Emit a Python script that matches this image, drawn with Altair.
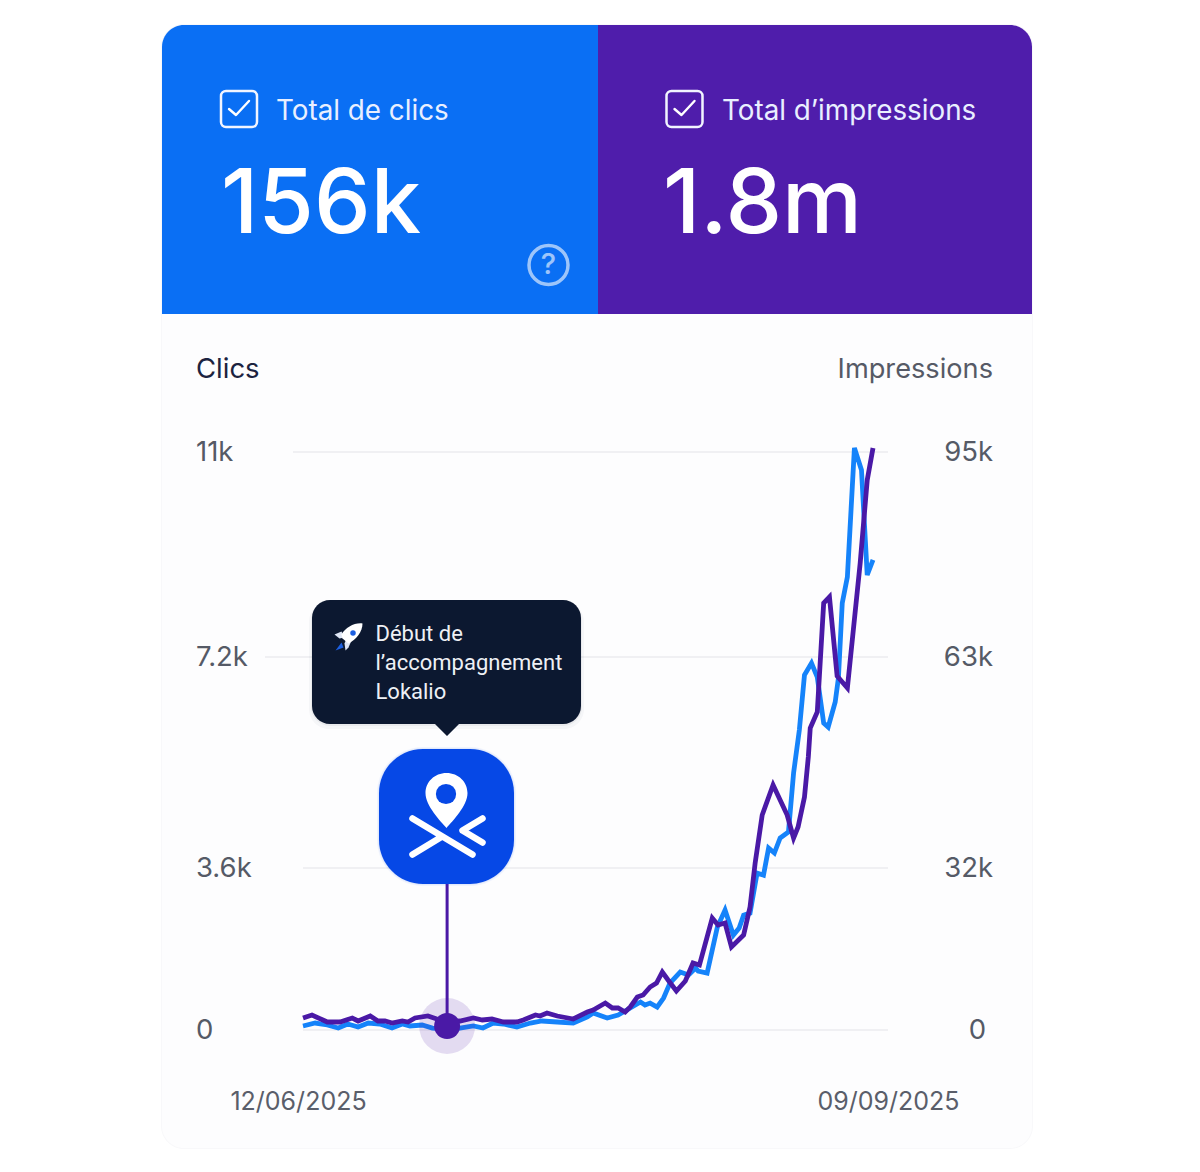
import altair as alt
import pandas as pd

# ---------- data ----------
clic_days = [0,1.9,3.8,5.5,7,8.6,10.2,12,13.9,15.5,16.7,18.6,20.2,22.5,24.5,26.6,28.1,29.7,31.3,33.4,35.5,37.3,39.7,42.2,44.4,45.3,47.5,49.2,51.1,52.7,53.4,54.2,55.3,56.3,57.3,58.9,60.2,61.3,61.7,63.1,64.7,65.9,67.2,68.1,68.8,69.8,70.9,71.9,72.7,73.6,74.5,75.8,76.6,77.5,78.3,79.4,80.3,81.3,82,83.1,83.6,84.2,85,86.1,87.2,88.1,89]
clics = [89,155,111,44,133,67,155,133,44,133,89,111,44,22,44,89,44,155,133,67,155,200,178,155,289,377,266,333,488,622,555,599,511,710,1043,1288,1221,1376,1310,1265,2287,2664,2109,2264,2553,2597,3485,3441,3941,3856,4112,4214,5221,5954,6893,7097,6858,6074,6005,6432,6841,8201,8683,11075,10667,8720,9000]
imp_days = [0,1.4,3.8,5.8,7.7,8.6,10.5,11.7,12.8,13.9,15.5,16.4,17.5,19.5,20.9,22.5,24.5,26.6,28,29.5,31.3,33.4,34.4,36.3,37,38.1,39.7,42.2,44.4,45.3,47.2,48.3,49.2,50.3,51.1,52.2,53.1,54.2,55.2,56.1,57,58.3,59.7,60.9,61.9,63.9,64.8,65.9,66.9,68.8,69.8,70.6,71.7,73.4,75.6,76.6,77.3,78.3,78.9,79.2,80.3,81.3,82.2,83.4,85,87,88.1,89]
impressions = [2370,2963,1580,1580,2370,1778,2765,1778,1778,1383,1778,1580,2370,2765,2173,1580,1778,2370,1975,2173,1580,1580,1975,2963,2765,3358,2765,2173,3555,3950,5333,4345,4345,3555,4543,6518,6913,8493,9283,11455,9875,7703,9678,13233,12838,22120,20738,21133,16393,18763,24293,32735,39786,44193,39786,36407,38023,42430,48306,52566,54916,71429,72366,60205,58442,77673,90630,95625]

clic_ticks = [0, 3600, 7200, 11000]
clic_labels = ["0", "3.6k", "7.2k", "11k"]
imp_ticks = [0, 32000, 63000, 95000]
imp_labels = ["0", "32k", "63k", "95k"]
grid_starts = [303, 303, 265, 293]
start_day = 22.5
start_impressions = 790
date_labels = ["12/06/2025", "09/09/2025"]

BLUE, PURPLE, LINE_BLUE, LINE_PURPLE = "#0A6FF4", "#4F1DAB", "#1583FA", "#4A19A6"
DARK, LOGO = "#0C1830", "#0648E6"
FONT = "Inter"

def P(v):  # page pixel -> chart pixel (8px page margin)
    return alt.value(v - 8)

# ---------- scales ----------
x_scale = alt.Scale(domain=[0, 89], range=[295, 865])
y_range = [1022, 860, 649, 444]
y_clic = alt.Scale(domain=clic_ticks, range=y_range)
y_imp = alt.Scale(domain=imp_ticks, range=y_range)
X = alt.X("day:Q", scale=x_scale, axis=None)

def rect(x0, x1, y0, y1, color, **kw):
    return alt.Chart().mark_rect(color=color, **kw).encode(x=P(x0), x2=P(x1), y=P(y0), y2=P(y1))

def text(s, x, y, size, color=None, weight=400, align="left", font=FONT, **kw):
    return alt.Chart().mark_text(text=s, font=font, fontSize=size, fontWeight=weight, align=align,
                                 baseline="middle", color=color or "#ffffff", **kw).encode(x=P(x), y=P(y))

def icon(path, x, y, fill=None, stroke=None, sw=0, **kw):
    args = dict(shape=path, size=4, filled=fill is not None, opacity=1, **kw)
    if fill is not None:
        args["fill"] = fill
    if stroke is not None:
        args.update(stroke=stroke, strokeWidth=sw, strokeCap="round", strokeJoin="round")
    else:
        args["strokeWidth"] = 0
    return alt.Chart().mark_point(**args).encode(x=P(x), y=P(y))

layers = []

# ---------- card ----------
layers += [
    rect(161, 1033, 24, 1149, "#f8f8fa", cornerRadius=23),
    rect(162, 1032, 26, 1148, "#fdfdfe", cornerRadius=22),
    rect(162, 598, 25, 314, BLUE, cornerRadiusTopLeft=22),
    rect(598, 1032, 25, 314, PURPLE, cornerRadiusTopRight=22),
]

# ---------- header tiles ----------
check = "M-10,0 L-3,6 L10,-8"
for bx, label, big, lx, bigx in [(239, "Total de clics", "156k", 277, 221), (684.5, "Total d\u2019impressions", "1.8m", 723, 663)]:
    layers += [
        rect(bx - 18, bx + 18, 91, 127, "#00000000", cornerRadius=5, stroke="#f2f5ff", strokeWidth=2.5),
        icon(check, bx, 109, stroke="#ffffff", sw=2.4),
        text(label, lx - 1, 112, 27.8, color="#e9efff"),
        text(big, bigx, 205.5, 90, weight=500),
    ]
layers += [
    alt.Chart().mark_point(shape="circle", size=1521, filled=False, stroke="#ffffff", strokeWidth=3.5, opacity=0.6)
        .encode(x=P(548.5), y=P(265)),
    text("?", 548.5, 265, 29, weight=500, opacity=0.6, align="center"),
]

# ---------- chart titles ----------
layers += [
    text("Clics", 196, 370, 27.5, color="#1c2340"),
    text("Impressions", 993, 370, 27.2, color="#565a66", align="right"),
]

# ---------- grid ----------
for t, g0 in zip(clic_ticks, grid_starts):
    layers.append(alt.Chart(pd.DataFrame({"tick": [t]})).mark_rule(color="#ebebef", strokeWidth=1.6)
                  .encode(x=P(g0), x2=P(888), y=alt.Y("tick:Q", scale=y_clic, axis=None)))

# ---------- tick labels ----------
for t, lab in zip(clic_ticks, clic_labels):
    layers.append(alt.Chart(pd.DataFrame({"tick": [t], "label": [lab]}))
                  .mark_text(font=FONT, fontSize=27.5, color="#555a66", align="left", baseline="middle", dy=0.5)
                  .encode(x=P(196), y=alt.Y("tick:Q", scale=y_clic, axis=None), text="label:N"))
for t, lab in zip(imp_ticks, imp_labels):
    layers.append(alt.Chart(pd.DataFrame({"tick": [t], "label": [lab]}))
                  .mark_text(font=FONT, fontSize=27.5, color="#555a66", align="right", baseline="middle", dy=0.5)
                  .encode(x=P(993 if t else 986), y=alt.Y("tick:Q", scale=y_imp, axis=None), text="label:N"))
layers += [
    text(date_labels[0], 298.5, 1101.5, 25, color="#5a5e6a", align="center"),
    text(date_labels[1], 888.5, 1101.5, 25, color="#5a5e6a", align="center"),
]

# ---------- series ----------
layers += [
    alt.Chart(pd.DataFrame({"day": clic_days, "v": clics})).mark_line(color=LINE_BLUE, strokeWidth=4.8, strokeJoin="miter")
        .encode(x=X, y=alt.Y("v:Q", scale=y_clic, axis=None)),
    alt.Chart(pd.DataFrame({"day": imp_days, "v": impressions})).mark_line(color=LINE_PURPLE, strokeWidth=4.8, strokeJoin="miter")
        .encode(x=X, y=alt.Y("v:Q", scale=y_imp, axis=None)),
]

# ---------- start marker ----------
start_df = pd.DataFrame({"day": [start_day], "v": [start_impressions]})
layers += [
    alt.Chart(start_df).mark_rule(color=LINE_PURPLE, strokeWidth=3)
        .encode(x=X, y=alt.Y("v:Q", scale=y_imp, axis=None), y2=P(880)),
    alt.Chart(start_df).mark_point(shape="circle", filled=True, color="#4F1DAB", opacity=0.15, size=3136, strokeWidth=0)
        .encode(x=X, y=alt.Y("v:Q", scale=y_imp, axis=None)),
    alt.Chart(start_df).mark_point(shape="circle", filled=True, color="#4A19A6", opacity=1, size=676, strokeWidth=0)
        .encode(x=X, y=alt.Y("v:Q", scale=y_imp, axis=None)),
]

# ---------- logo ----------
pin = ("M0,-22 C-12,-22 -21,-13 -21,-2 C-21,11 -6,26 0,33 C6,26 21,11 21,-2 C21,-13 12,-22 0,-22 Z")
layers += [
    rect(377, 516, 747, 886, "#0648E6", cornerRadius=46, opacity=0.05),
    rect(378, 515, 748, 885, "#0648E6", cornerRadius=45, opacity=0.06),
    rect(379, 514, 749, 884, LOGO, cornerRadius=44),
    icon(pin, 446.5, 795, fill="#ffffff"),
    alt.Chart().mark_point(shape="circle", size=410, filled=True, color=LOGO, opacity=1, strokeWidth=0).encode(x=P(446), y=P(794)),
    icon("M-34,2 L26,38 M-34,38 L-6,21 M36,2 L16,14 L36,26", 446.5, 816.5, stroke="#ffffff", sw=6.5),
]

# ---------- tooltip ----------
layers += [
    rect(309, 584, 602, 729, "#0C1830", cornerRadius=20, opacity=0.03),
    rect(311, 582, 602, 726, "#0C1830", cornerRadius=19, opacity=0.05),
    rect(312, 581, 600, 724, DARK, cornerRadius=18),
    icon("M-12,-1 L0,-1 L-12,-1 L0,11 L12,-1 Z", 447, 725, fill=DARK),
    text("D\u00e9but de", 375.5, 634, 22, color="#eef0f5", font="Roboto"),
    text("l\u2019accompagnement", 375.5, 663, 22, color="#eef0f5", font="Roboto"),
    text("Lokalio", 375.5, 692, 22, color="#eef0f5", font="Roboto"),
    icon("M-7,-6 L-14,-3 L-9,1 L-4,0 Z", 348.5, 637.5, fill="#dfe6f5"),
    icon("M3,3 L0,10 L-3,13 L-4,6 L-2,1 Z", 348.5, 637.5, fill="#dfe6f5"),
    icon("M-7,5 L-13,13 L-5,10 Z", 348.5, 637.5, fill="#1c5fe0"),
    icon("M14,-14 C6,-15 -3,-10 -7,-3 L-6,1 L0,6 C8,2 14,-6 14,-14 Z", 348.5, 637.5, fill="#ffffff"),
    alt.Chart().mark_point(shape="circle", size=30, filled=True, color="#1c5fe0", opacity=1, strokeWidth=0).encode(x=P(353), y=P(633)),
]

chart = (alt.layer(*layers)
         .resolve_scale(y="independent")
         .properties(width=1184, height=1150, padding=0, background="#ffffff",
                     autosize=alt.AutoSizeParams(type="none"))
         .configure_view(stroke=None))

chart.save("out.html", embed_options={"renderer": "svg", "actions": False})
